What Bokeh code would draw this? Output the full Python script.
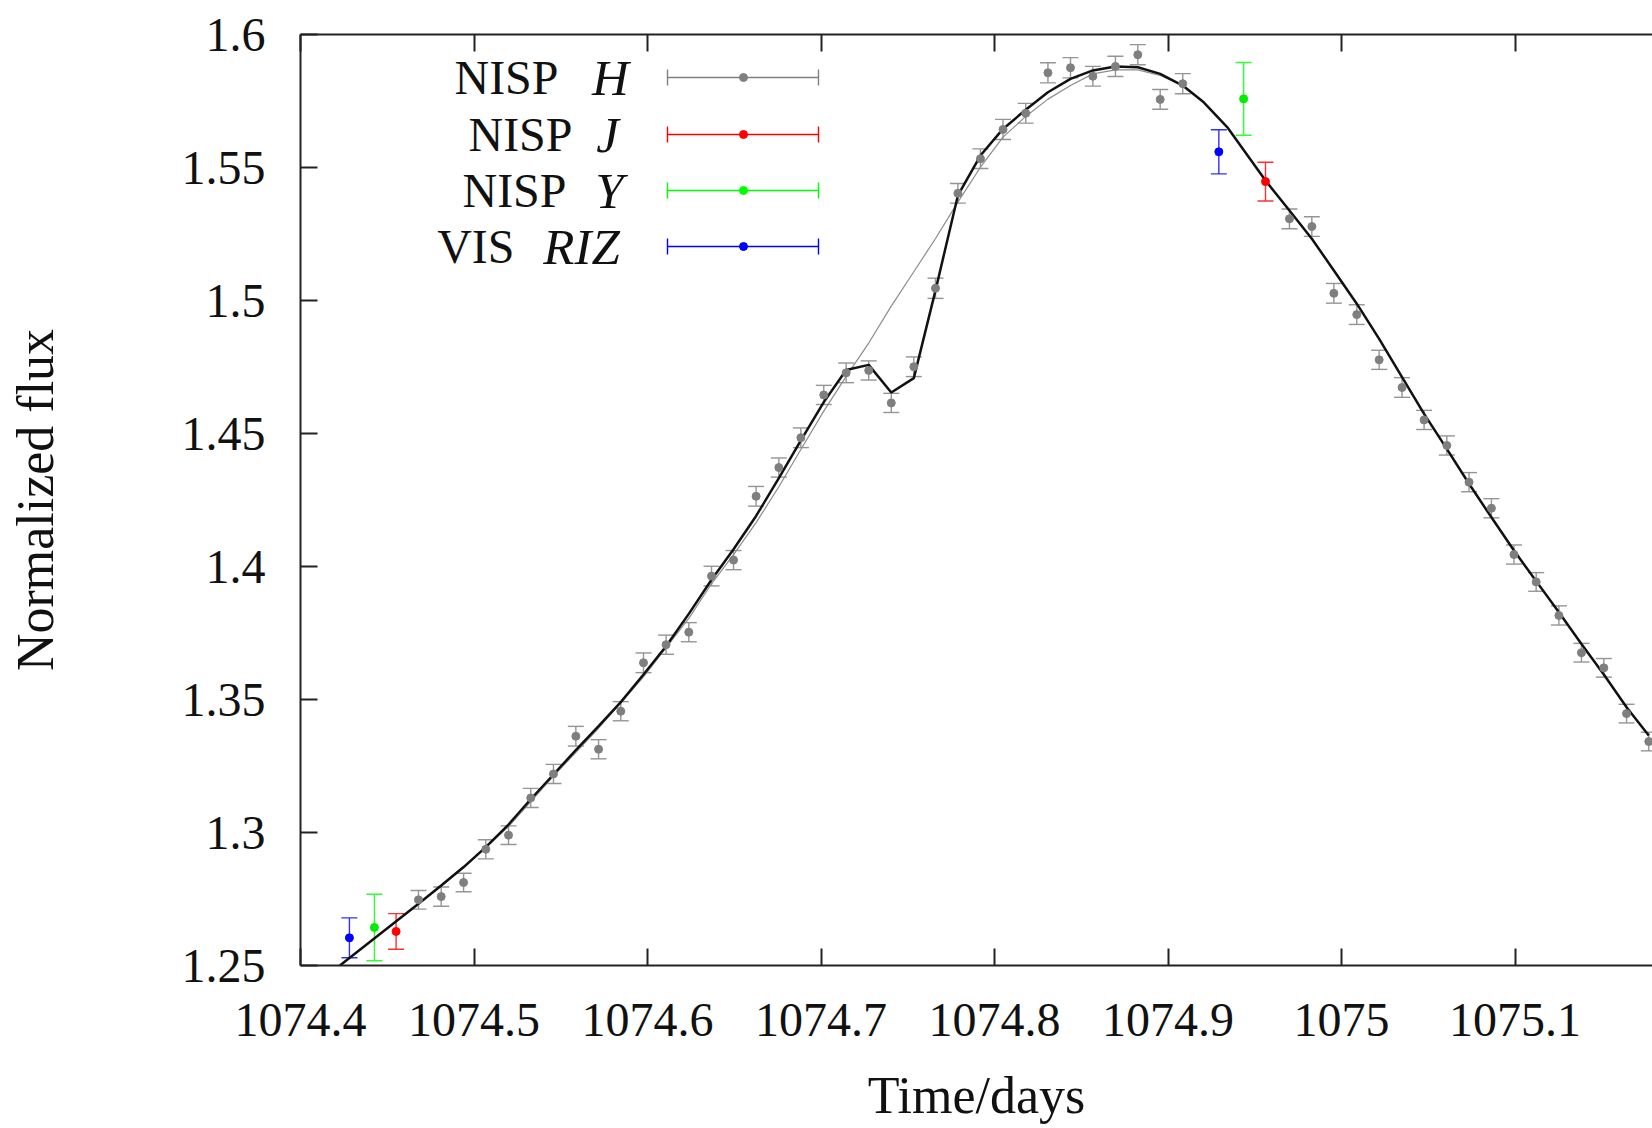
from bokeh.plotting import figure
from bokeh.models import ColumnDataSource, Whisker, TeeHead, LinearAxis, Range1d, FixedTicker
from bokeh.embed import file_html
from bokeh.resources import INLINE
from bokeh.core.properties import value

# ---------------- data ----------------
h_time = [1074.4680, 1074.4811, 1074.4940, 1074.5068, 1074.5199, 1074.5327, 1074.5458,
          1074.5587, 1074.5718, 1074.5846, 1074.5977, 1074.6107, 1074.6238, 1074.6369,
          1074.6496, 1074.6626, 1074.6757, 1074.6884, 1074.7016, 1074.7145, 1074.7275,
          1074.7405, 1074.7535, 1074.7660, 1074.7789, 1074.7919, 1074.8049, 1074.8180,
          1074.8308, 1074.8438, 1074.8567, 1074.8697, 1074.8826, 1074.8955, 1074.9085,
          1074.9700, 1074.9829, 1074.9956, 1075.0088, 1075.0217, 1075.0349, 1075.0476,
          1075.0607, 1075.0735, 1075.0864, 1075.0994, 1075.1122, 1075.1253, 1075.1383,
          1075.1512, 1075.1643, 1075.1771]
h_flux = [1.2747, 1.2759, 1.2812, 1.2937, 1.2990, 1.3130, 1.3220,
          1.3362, 1.3313, 1.3456, 1.3638, 1.3706, 1.3753, 1.3964,
          1.4024, 1.4264, 1.4372, 1.4484, 1.4645, 1.4728, 1.4737,
          1.4615, 1.4751, 1.5046, 1.5403, 1.5533, 1.5643, 1.5704,
          1.5856, 1.5875, 1.5843, 1.5880, 1.5924, 1.5756, 1.5815,
          1.5307, 1.5278, 1.5027, 1.4947, 1.4777, 1.4673, 1.4551,
          1.4455, 1.4317, 1.4219, 1.4045, 1.3942, 1.3816, 1.3676,
          1.3619, 1.3447, 1.3342]
h_err = [0.0035, 0.0036, 0.0035, 0.0036, 0.0035, 0.0036, 0.0036,
         0.0037, 0.0036, 0.0036, 0.0037, 0.0036, 0.0036, 0.0037,
         0.0036, 0.0037, 0.0036, 0.0037, 0.0036, 0.0037, 0.0036,
         0.0036, 0.0037, 0.0038, 0.0037, 0.0037, 0.0038, 0.0037,
         0.0038, 0.0038, 0.0037, 0.0038, 0.0038, 0.0037, 0.0038,
         0.0037, 0.0037, 0.0037, 0.0037, 0.0036, 0.0037, 0.0036,
         0.0036, 0.0036, 0.0036, 0.0036, 0.0035, 0.0036, 0.0035,
         0.0035, 0.0035, 0.0035]

j_time = [1074.4551, 1074.9562]
j_flux = [1.2628, 1.5447]
j_err = [0.0067, 0.0073]

y_time = [1074.4426, 1074.9436]
y_flux = [1.2643, 1.5758]
y_err = [0.0125, 0.0137]

riz_time = [1074.4282, 1074.9293]
riz_flux = [1.2604, 1.5559]
riz_err = [0.0075, 0.0083]

# model with the planetary anomaly (thick black)
model_time = [1074.4227, 1074.4680, 1074.4811, 1074.4940, 1074.5068, 1074.5199, 1074.5327,
              1074.5458, 1074.5587, 1074.5718, 1074.5846, 1074.5977, 1074.6107, 1074.6238,
              1074.6369, 1074.6496, 1074.6626, 1074.6757, 1074.6884, 1074.7016, 1074.7145,
              1074.7275, 1074.7405, 1074.7535, 1074.7660, 1074.7789, 1074.7919, 1074.8049,
              1074.8180, 1074.8308, 1074.8438, 1074.8567, 1074.8697, 1074.8826, 1074.8955,
              1074.9085, 1074.9206, 1074.9341, 1074.9562, 1074.9700, 1074.9829, 1074.9956,
              1075.0088, 1075.0217, 1075.0349, 1075.0476, 1075.0607, 1075.0735, 1075.0864,
              1075.0994, 1075.1122, 1075.1253, 1075.1383, 1075.1512, 1075.1643, 1075.1771]
model_flux = [1.2500, 1.2732, 1.2801, 1.2870, 1.2945, 1.3030, 1.3125,
              1.3218, 1.3310, 1.3400, 1.3490, 1.3594, 1.3700, 1.3822,
              1.3950, 1.4065, 1.4190, 1.4332, 1.4474, 1.4618, 1.4739,
              1.4758, 1.4654, 1.4708, 1.5038, 1.5395, 1.5545, 1.5645,
              1.5717, 1.5783, 1.5833, 1.5865, 1.5880, 1.5877, 1.5852,
              1.5808, 1.5745, 1.5652, 1.5451, 1.5338, 1.5232, 1.5113,
              1.4988, 1.4856, 1.4712, 1.4574, 1.4442, 1.4311, 1.4185,
              1.4060, 1.3945, 1.3828, 1.3709, 1.3594, 1.3471, 1.3365]

# single-lens model (thin grey)
single_time = [1074.4227, 1074.4680, 1074.4940, 1074.5199, 1074.5458, 1074.5718, 1074.5977,
               1074.6238, 1074.6369, 1074.6496, 1074.6626, 1074.6757, 1074.6884, 1074.7016,
               1074.7145, 1074.7275, 1074.7405, 1074.7535, 1074.7660, 1074.7789, 1074.7919,
               1074.8049, 1074.8180, 1074.8308, 1074.8438, 1074.8567, 1074.8697, 1074.8826,
               1074.8955, 1074.9085, 1074.9206, 1074.9341, 1074.9562, 1074.9700, 1074.9829,
               1074.9956, 1075.0088, 1075.0217, 1075.0349, 1075.0476, 1075.0607, 1075.0735,
               1075.0864, 1075.0994, 1075.1122, 1075.1253, 1075.1383, 1075.1512, 1075.1643,
               1075.1771]
single_flux = [1.2500, 1.2730, 1.2866, 1.3022, 1.3212, 1.3392, 1.3585,
               1.3805, 1.3935, 1.4045, 1.4165, 1.4300, 1.4440, 1.4584,
               1.4715, 1.4840, 1.4979, 1.5108, 1.5233, 1.5370, 1.5501,
               1.5614, 1.5692, 1.5757, 1.5808, 1.5852, 1.5867, 1.5867,
               1.5846, 1.5808, 1.5745, 1.5652, 1.5451, 1.5338, 1.5232,
               1.5113, 1.4988, 1.4856, 1.4712, 1.4574, 1.4442, 1.4311,
               1.4185, 1.4060, 1.3945, 1.3828, 1.3709, 1.3594, 1.3471,
               1.3365]

x_ticks = [1074.4, 1074.5, 1074.6, 1074.7, 1074.8, 1074.9, 1075.0, 1075.1]
x_tick_labels = ["1074.4", "1074.5", "1074.6", "1074.7", "1074.8", "1074.9", "1075", "1075.1"]
y_ticks = [1.25, 1.3, 1.35, 1.4, 1.45, 1.5, 1.55, 1.6]
y_tick_labels = ["1.25", "1.3", "1.35", "1.4", "1.45", "1.5", "1.55", "1.6"]

legend_roman = ["NISP", "NISP", "NISP", "VIS"]
legend_italic = ["H", "J", "Y", "RIZ"]
legend_colors = ["#808080", "#ff0000", "#00ff00", "#0000ff"]

# ---------------- layout ----------------
W, H = 1652, 1128
BL, BT, BB = 300, 34, 163
FW, FH = W - BL, H - BT - BB
X0 = 1074.4
X1 = X0 + FW / 1735.0
Y0, Y1 = 1.25, 1.6
FONT = "Liberation Serif"

p = figure(width=W, height=H, x_range=Range1d(X0, X1), y_range=Range1d(Y0, Y1),
           output_backend="svg", toolbar_location=None,
           min_border_left=BL, min_border_right=0, min_border_top=BT, min_border_bottom=BB,
           x_axis_label="Time/days", y_axis_label="Normalized flux")
p.grid.visible = False
p.outline_line_color = None
p.background_fill_color = "white"
p.border_fill_color = "white"

bottom_axis = p.below[0]
left_axis = p.left[0]
top_axis = LinearAxis()
p.add_layout(top_axis, "above")

for ax in [bottom_axis, left_axis, top_axis]:
    ax.axis_line_width = 2
    ax.axis_line_color = "#222222"
    ax.major_tick_in = 17
    ax.major_tick_out = 0
    ax.major_tick_line_width = 2
    ax.major_tick_line_color = "#222222"
    ax.minor_tick_line_color = None
    ax.major_label_text_font = FONT
    ax.major_label_text_font_size = "48px"
    ax.major_label_text_color = "#111111"
    ax.axis_label_text_font = FONT
    ax.axis_label_text_font_size = "52px"
    ax.axis_label_text_font_style = "normal"
    ax.axis_label_text_color = "#111111"

for ax in [bottom_axis, top_axis]:
    ax.ticker = FixedTicker(ticks=x_ticks)
    ax.major_label_overrides = dict(zip(x_ticks, x_tick_labels))
left_axis.ticker = FixedTicker(ticks=y_ticks)
left_axis.major_label_overrides = dict(zip(y_ticks, y_tick_labels))

top_axis.major_label_text_font_size = "0px"
top_axis.major_label_text_alpha = 0
top_axis.major_label_standoff = 0

bottom_axis.major_label_standoff = 38
bottom_axis.axis_label_standoff = 28
left_axis.major_label_standoff = 35
left_axis.axis_label_standoff = 115

# ---------------- models ----------------
p.line(single_time, single_flux, line_color="#8c8c8c", line_width=1.2)
p.line(model_time, model_flux, line_color="#111111", line_width=2.5)

# ---------------- data with error bars ----------------
def add_series(t, f, e, color, bar_color):
    src = ColumnDataSource(dict(t=t, f=f,
                                lo=[a - b for a, b in zip(f, e)],
                                hi=[a + b for a, b in zip(f, e)]))
    w = Whisker(source=src, base="t", lower="lo", upper="hi", dimension="height",
                line_color=bar_color, line_width=1.4,
                lower_head=TeeHead(size=16, line_color=bar_color, line_width=1.4),
                upper_head=TeeHead(size=16, line_color=bar_color, line_width=1.4))
    p.add_layout(w)
    p.scatter("t", "f", source=src, size=8, marker="circle",
              fill_color=color, line_color=color)

add_series(h_time, h_flux, h_err, "#7f7f7f", "#959595")
add_series(j_time, j_flux, j_err, "#ff0000", "#ff3030")
add_series(y_time, y_flux, y_err, "#00ee00", "#30ff30")
add_series(riz_time, riz_flux, riz_err, "#0000ff", "#3030ff")

# ---------------- legend (label left, sample right) ----------------
def dx(px):
    return X0 + (px - BL) * (X1 - X0) / FW

def dy(py):
    return Y1 - (py - BT) * (Y1 - Y0) / FH

row_py = [77, 134, 190, 246]
roman_end = [558, 572, 566, 514]
italic_mid = [610, 607, 609, 581]
for i in range(4):
    yy = dy(row_py[i])
    p.text(x=[dx(roman_end[i])], y=[yy], text=[legend_roman[i]],
           text_font=value(FONT), text_font_size="48px", text_align="right",
           text_baseline="middle", text_color="#111111")
    p.text(x=[dx(italic_mid[i])], y=[yy], text=[legend_italic[i]],
           text_font=value(FONT), text_font_size="51px", text_font_style="italic",
           text_align="center", text_baseline="middle", text_color="#111111")
    col = legend_colors[i]
    lsrc = ColumnDataSource(dict(y=[yy], lo=[dx(667)], hi=[dx(818)], xm=[dx(743)]))
    p.add_layout(Whisker(source=lsrc, base="y", lower="lo", upper="hi", dimension="width",
                         line_color=col, line_width=1.4,
                         lower_head=TeeHead(size=16, line_color=col, line_width=1.4),
                         upper_head=TeeHead(size=16, line_color=col, line_width=1.4)))
    p.scatter("xm", "y", source=lsrc, size=8, marker="circle", fill_color=col, line_color=col)

open("out.html", "w").write(file_html(p, INLINE))
